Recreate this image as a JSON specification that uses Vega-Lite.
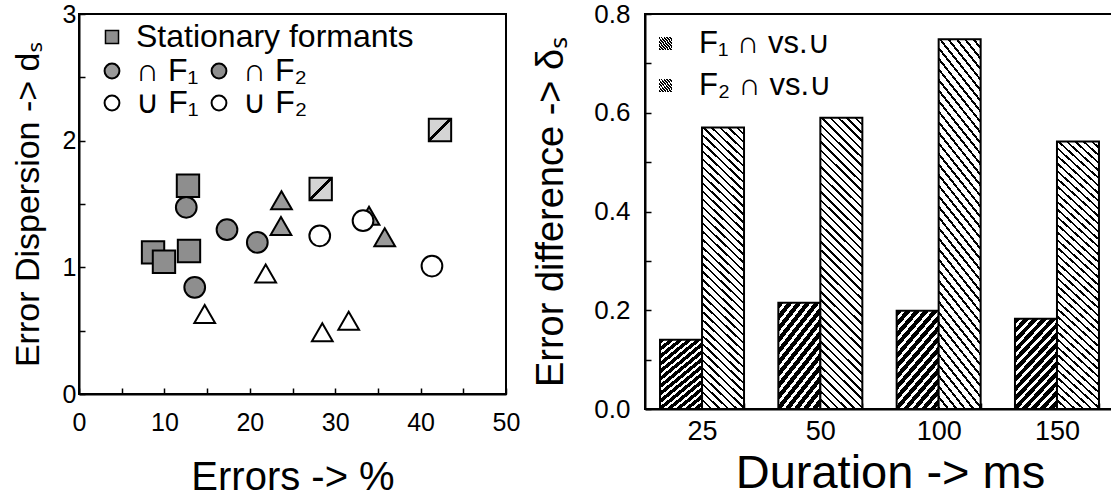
{
  "$schema": "https://vega.github.io/schema/vega-lite/v6.json",
  "background": "white",
  "padding": {"left": 10, "top": 0, "right": 0, "bottom": 0},
  "spacing": 10,
  "config": {
    "font": "Liberation Sans, Noto Sans, DejaVu Sans",
    "view": {"stroke": "black", "strokeWidth": 2},
    "axis": {"domainColor": "black", "domainWidth": 2, "tickColor": "black", "tickWidth": 1.5, "grid": false, "labelColor": "black", "titleColor": "black", "titleFontWeight": "normal", "labelFont": "Liberation Sans, Noto Sans, DejaVu Sans", "titleFont": "Liberation Sans, Noto Sans, DejaVu Sans"},
    "legend": {"labelColor": "black", "labelFont": "Liberation Sans, Noto Sans, DejaVu Sans", "labelLimit": 500}
  },
  "datasets": {
    "squares": [
      {"kind": "Stationary formants", "err": 12.76, "disp": 1.644},
      {"kind": "Stationary formants", "err": 8.67, "disp": 1.118},
      {"kind": "Stationary formants", "err": 9.95, "disp": 1.044},
      {"kind": "Stationary formants", "err": 12.88, "disp": 1.129},
      {"kind": "hatched", "err": 28.3, "disp": 1.618},
      {"kind": "hatched", "err": 42.27, "disp": 2.084}
    ],
    "shapes": [
      {"group": "∩ F₂", "err": 12.56, "disp": 1.474},
      {"group": "∩ F₂", "err": 17.33, "disp": 1.297},
      {"group": "∩ F₂", "err": 20.88, "disp": 1.197},
      {"group": "∩ F₂", "err": 13.55, "disp": 0.842},
      {"group": "∩ F₁", "err": 23.71, "disp": 1.529},
      {"group": "∩ F₁", "err": 23.65, "disp": 1.326},
      {"group": "∩ F₁", "err": 33.96, "disp": 1.407},
      {"group": "∩ F₁", "err": 35.8, "disp": 1.237},
      {"group": "∪ F₁", "err": 14.72, "disp": 0.631},
      {"group": "∪ F₁", "err": 21.86, "disp": 0.951},
      {"group": "∪ F₁", "err": 28.49, "disp": 0.487},
      {"group": "∪ F₁", "err": 31.58, "disp": 0.579},
      {"group": "∪ F₂", "err": 28.19, "disp": 1.249},
      {"group": "∪ F₂", "err": 33.26, "disp": 1.368},
      {"group": "∪ F₂", "err": 41.33, "disp": 1.01}
    ],
    "bars": [
      {"duration": 25, "series": "F₁ ∩ vs.∪", "value": 0.1405},
      {"duration": 25, "series": "F₂ ∩ vs.∪", "value": 0.57},
      {"duration": 50, "series": "F₁ ∩ vs.∪", "value": 0.215},
      {"duration": 50, "series": "F₂ ∩ vs.∪", "value": 0.59},
      {"duration": 100, "series": "F₁ ∩ vs.∪", "value": 0.199},
      {"duration": 100, "series": "F₂ ∩ vs.∪", "value": 0.749},
      {"duration": 150, "series": "F₁ ∩ vs.∪", "value": 0.183},
      {"duration": 150, "series": "F₂ ∩ vs.∪", "value": 0.542}
    ]
  },
  "hconcat": [
    {
      "width": 427,
      "height": 380,
      "encoding": {
        "x": {"field": "err", "type": "quantitative", "scale": {"domain": [0, 50], "nice": false, "zero": false},
          "axis": {"title": "Errors -> %", "titleFontSize": 40, "titlePadding": 22, "labelFontSize": 25, "labelPadding": 22, "tickSize": -6,
            "values": [0, 5, 10, 15, 20, 25, 30, 35, 40, 45, 50], "labelExpr": "datum.value % 10 == 0 ? datum.label : ''", "labelFlush": false}},
        "y": {"field": "disp", "type": "quantitative", "scale": {"domain": [0, 3], "nice": false, "zero": false},
          "axis": {"title": "Error Dispersion -> dₛ", "titleFontSize": 34, "titlePadding": 17, "labelFontSize": 25, "labelPadding": 9, "tickSize": -6,
            "values": [0, 0.5, 1, 1.5, 2, 2.5, 3], "labelExpr": "datum.value % 1 == 0 ? format(datum.value, 'd') : ''", "labelFlush": false}}
      },
      "layer": [
        {
          "data": {"name": "squares"},
          "transform": [{"filter": "datum.kind == 'hatched'"}],
          "mark": {"type": "point", "shape": "square", "size": 500, "filled": true, "opacity": 1, "stroke": "black", "strokeWidth": 2,
            "fill": {"gradient": "linear", "x1": 0, "y1": 0, "x2": 1, "y2": 1, "stops": [
              {"offset": 0, "color": "#d4d4d4"}, {"offset": 0.44, "color": "#d4d4d4"}, {"offset": 0.44, "color": "#000"},
              {"offset": 0.53, "color": "#000"}, {"offset": 0.53, "color": "#d4d4d4"}, {"offset": 1, "color": "#d4d4d4"}]}}
        },
        {
          "data": {"name": "squares"},
          "transform": [{"filter": "datum.kind == 'Stationary formants'"}],
          "mark": {"type": "point", "shape": "square", "size": 500, "filled": true, "opacity": 1, "fill": "#8e8e8e", "strokeWidth": 2},
          "encoding": {
            "stroke": {"field": "kind", "type": "nominal", "scale": {"domain": ["Stationary formants"], "range": ["black"]},
              "legend": {"title": null, "orient": "none", "legendX": 17, "legendY": 7, "padding": 0, "symbolType": "square", "symbolSize": 170, "symbolStrokeWidth": 1.5, "labelFontSize": 32, "labelOffset": 8,
                "encode": {"symbols": {"update": {"fill": {"value": "#8e8e8e"}, "stroke": {"value": "black"}, "opacity": {"value": 1}}}}}}
          }
        },
        {
          "data": {"name": "shapes"},
          "mark": {"type": "point", "filled": true, "opacity": 1, "stroke": "black", "strokeWidth": 2},
          "encoding": {
            "fill": {"field": "group", "type": "nominal", "scale": {"domain": ["∩ F₁", "∪ F₁", "∩ F₂", "∪ F₂"], "range": ["#9a9a9a", "white", "#8e8e8e", "white"]},
              "legend": {"title": null, "orient": "none", "legendX": 17, "legendY": 41, "padding": 0, "columns": 2, "columnPadding": 4, "rowPadding": 0, "symbolSize": 220, "symbolStrokeColor": "black", "symbolStrokeWidth": 2, "labelFontSize": 32, "labelOffset": 8,
                "encode": {"symbols": {"update": {
                  "shape": [{"test": "indexof(datum.value, 'F₁') >= 0", "value": "triangle-up"}, {"value": "circle"}],
                  "stroke": {"value": "black"}, "strokeWidth": {"value": 2}, "opacity": {"value": 1}}}}}},
            "shape": {"field": "group", "type": "nominal", "scale": {"domain": ["∩ F₁", "∪ F₁", "∩ F₂", "∪ F₂"], "range": ["triangle-up", "triangle-up", "circle", "circle"]}, "legend": null},
            "size": {"field": "group", "type": "nominal", "scale": {"domain": ["∩ F₁", "∪ F₁", "∩ F₂", "∪ F₂"], "range": [430, 430, 280, 280]}, "legend": null}
          }
        }
      ],
      "resolve": {"scale": {"fill": "independent"}, "legend": {"fill": "independent"}}
    },
    {
      "width": 469,
      "height": 395,
      "data": {"name": "bars"},
      "encoding": {
        "x": {"field": "duration", "type": "ordinal", "scale": {"paddingInner": 0.29, "paddingOuter": 0.127},
          "axis": {"title": "Duration -> ms", "titleFontSize": 47, "titlePadding": 6, "titleX": 245, "labelFontSize": 27, "labelPadding": 15, "labelAngle": 0, "tickBand": "extent", "tickSize": -6}},
        "xOffset": {"field": "series", "type": "nominal", "scale": {"domain": ["F₁ ∩ vs.∪", "F₂ ∩ vs.∪"], "paddingInner": 0, "paddingOuter": 0}},
        "y": {"field": "value", "type": "quantitative", "scale": {"domain": [0, 0.8], "nice": false, "zero": true},
          "axis": {"title": "Error difference -> δₛ", "titleFontSize": 38, "titlePadding": 23, "labelFontSize": 26, "labelPadding": 21, "tickSize": -6, "format": ".1f",
            "values": [0, 0.1, 0.2, 0.3, 0.4, 0.5, 0.6, 0.7, 0.8], "labelExpr": "round(datum.value * 10) % 2 == 0 ? datum.label : ''", "labelFlush": false}},
        "opacity": {"field": "series", "type": "nominal", "scale": {"domain": ["F₁ ∩ vs.∪", "F₂ ∩ vs.∪"], "range": [1, 1]},
          "legend": {"title": null, "orient": "none", "legendX": 571, "legendY": 14, "padding": 0, "symbolType": "square", "symbolSize": 170, "symbolStrokeColor": "black", "symbolStrokeWidth": 1.5, "symbolOpacity": 1, "labelFontSize": 31, "labelOffset": 18, "rowPadding": 10,
            "encode": {"symbols": {"update": {
              "fill": [
                {"test": "datum.value == 'F₁ ∩ vs.∪'", "value": {"gradient": "linear", "x1": 0, "y1": 0, "x2": 1, "y2": 1, "stops": [{"offset": 0, "color": "#000"}, {"offset": 0.4, "color": "#000"}, {"offset": 0.4, "color": "#fff"}, {"offset": 0.6, "color": "#fff"}, {"offset": 0.6, "color": "#000"}, {"offset": 1, "color": "#000"}]}},
                {"value": {"gradient": "linear", "x1": 1, "y1": 0, "x2": 0, "y2": 1, "stops": [{"offset": 0, "color": "#fff"}, {"offset": 0.42, "color": "#fff"}, {"offset": 0.42, "color": "#000"}, {"offset": 0.58, "color": "#000"}, {"offset": 0.58, "color": "#fff"}, {"offset": 1, "color": "#fff"}]}}],
              "stroke": {"value": "black"}, "opacity": {"value": 1}}}}}}
      },
      "layer": [
        {
          "transform": [{"filter": "datum.series == 'F₁ ∩ vs.∪'"}],
          "mark": {"type": "bar", "stroke": "black", "strokeWidth": 2,
            "fill": {"gradient": "linear", "x1": 0, "y1": 0, "x2": 0.6, "y2": 1.2, "stops": [
              {"offset": 0, "color": "#000"}, {"offset": 0.0429, "color": "#000"}, {"offset": 0.0429, "color": "#fff"}, {"offset": 0.0714, "color": "#fff"},
              {"offset": 0.0714, "color": "#000"}, {"offset": 0.1143, "color": "#000"}, {"offset": 0.1143, "color": "#fff"}, {"offset": 0.1429, "color": "#fff"},
              {"offset": 0.1429, "color": "#000"}, {"offset": 0.1857, "color": "#000"}, {"offset": 0.1857, "color": "#fff"}, {"offset": 0.2143, "color": "#fff"},
              {"offset": 0.2143, "color": "#000"}, {"offset": 0.2571, "color": "#000"}, {"offset": 0.2571, "color": "#fff"}, {"offset": 0.2857, "color": "#fff"},
              {"offset": 0.2857, "color": "#000"}, {"offset": 0.3286, "color": "#000"}, {"offset": 0.3286, "color": "#fff"}, {"offset": 0.3571, "color": "#fff"},
              {"offset": 0.3571, "color": "#000"}, {"offset": 0.4, "color": "#000"}, {"offset": 0.4, "color": "#fff"}, {"offset": 0.4286, "color": "#fff"},
              {"offset": 0.4286, "color": "#000"}, {"offset": 0.4714, "color": "#000"}, {"offset": 0.4714, "color": "#fff"}, {"offset": 0.5, "color": "#fff"},
              {"offset": 0.5, "color": "#000"}, {"offset": 0.5429, "color": "#000"}, {"offset": 0.5429, "color": "#fff"}, {"offset": 0.5714, "color": "#fff"},
              {"offset": 0.5714, "color": "#000"}, {"offset": 0.6143, "color": "#000"}, {"offset": 0.6143, "color": "#fff"}, {"offset": 0.6429, "color": "#fff"},
              {"offset": 0.6429, "color": "#000"}, {"offset": 0.6857, "color": "#000"}, {"offset": 0.6857, "color": "#fff"}, {"offset": 0.7143, "color": "#fff"},
              {"offset": 0.7143, "color": "#000"}, {"offset": 0.7571, "color": "#000"}, {"offset": 0.7571, "color": "#fff"}, {"offset": 0.7857, "color": "#fff"},
              {"offset": 0.7857, "color": "#000"}, {"offset": 0.8286, "color": "#000"}, {"offset": 0.8286, "color": "#fff"}, {"offset": 0.8571, "color": "#fff"},
              {"offset": 0.8571, "color": "#000"}, {"offset": 0.9, "color": "#000"}, {"offset": 0.9, "color": "#fff"}, {"offset": 0.9286, "color": "#fff"},
              {"offset": 0.9286, "color": "#000"}, {"offset": 0.9714, "color": "#000"}, {"offset": 0.9714, "color": "#fff"}, {"offset": 1, "color": "#fff"}
            ]}}
        },
        {
          "transform": [{"filter": "datum.series == 'F₂ ∩ vs.∪'"}],
          "mark": {"type": "bar", "stroke": "black", "strokeWidth": 2,
            "fill": {"gradient": "linear", "x1": 1, "y1": 0, "x2": 0.84, "y2": 1.12, "stops": [
              {"offset": 0, "color": "#fff"}, {"offset": 0.0175, "color": "#fff"}, {"offset": 0.0175, "color": "#000"}, {"offset": 0.025, "color": "#000"},
              {"offset": 0.025, "color": "#fff"}, {"offset": 0.0425, "color": "#fff"}, {"offset": 0.0425, "color": "#000"}, {"offset": 0.05, "color": "#000"},
              {"offset": 0.05, "color": "#fff"}, {"offset": 0.0675, "color": "#fff"}, {"offset": 0.0675, "color": "#000"}, {"offset": 0.075, "color": "#000"},
              {"offset": 0.075, "color": "#fff"}, {"offset": 0.0925, "color": "#fff"}, {"offset": 0.0925, "color": "#000"}, {"offset": 0.1, "color": "#000"},
              {"offset": 0.1, "color": "#fff"}, {"offset": 0.1175, "color": "#fff"}, {"offset": 0.1175, "color": "#000"}, {"offset": 0.125, "color": "#000"},
              {"offset": 0.125, "color": "#fff"}, {"offset": 0.1425, "color": "#fff"}, {"offset": 0.1425, "color": "#000"}, {"offset": 0.15, "color": "#000"},
              {"offset": 0.15, "color": "#fff"}, {"offset": 0.1675, "color": "#fff"}, {"offset": 0.1675, "color": "#000"}, {"offset": 0.175, "color": "#000"},
              {"offset": 0.175, "color": "#fff"}, {"offset": 0.1925, "color": "#fff"}, {"offset": 0.1925, "color": "#000"}, {"offset": 0.2, "color": "#000"},
              {"offset": 0.2, "color": "#fff"}, {"offset": 0.2175, "color": "#fff"}, {"offset": 0.2175, "color": "#000"}, {"offset": 0.225, "color": "#000"},
              {"offset": 0.225, "color": "#fff"}, {"offset": 0.2425, "color": "#fff"}, {"offset": 0.2425, "color": "#000"}, {"offset": 0.25, "color": "#000"},
              {"offset": 0.25, "color": "#fff"}, {"offset": 0.2675, "color": "#fff"}, {"offset": 0.2675, "color": "#000"}, {"offset": 0.275, "color": "#000"},
              {"offset": 0.275, "color": "#fff"}, {"offset": 0.2925, "color": "#fff"}, {"offset": 0.2925, "color": "#000"}, {"offset": 0.3, "color": "#000"},
              {"offset": 0.3, "color": "#fff"}, {"offset": 0.3175, "color": "#fff"}, {"offset": 0.3175, "color": "#000"}, {"offset": 0.325, "color": "#000"},
              {"offset": 0.325, "color": "#fff"}, {"offset": 0.3425, "color": "#fff"}, {"offset": 0.3425, "color": "#000"}, {"offset": 0.35, "color": "#000"},
              {"offset": 0.35, "color": "#fff"}, {"offset": 0.3675, "color": "#fff"}, {"offset": 0.3675, "color": "#000"}, {"offset": 0.375, "color": "#000"},
              {"offset": 0.375, "color": "#fff"}, {"offset": 0.3925, "color": "#fff"}, {"offset": 0.3925, "color": "#000"}, {"offset": 0.4, "color": "#000"},
              {"offset": 0.4, "color": "#fff"}, {"offset": 0.4175, "color": "#fff"}, {"offset": 0.4175, "color": "#000"}, {"offset": 0.425, "color": "#000"},
              {"offset": 0.425, "color": "#fff"}, {"offset": 0.4425, "color": "#fff"}, {"offset": 0.4425, "color": "#000"}, {"offset": 0.45, "color": "#000"},
              {"offset": 0.45, "color": "#fff"}, {"offset": 0.4675, "color": "#fff"}, {"offset": 0.4675, "color": "#000"}, {"offset": 0.475, "color": "#000"},
              {"offset": 0.475, "color": "#fff"}, {"offset": 0.4925, "color": "#fff"}, {"offset": 0.4925, "color": "#000"}, {"offset": 0.5, "color": "#000"},
              {"offset": 0.5, "color": "#fff"}, {"offset": 0.5175, "color": "#fff"}, {"offset": 0.5175, "color": "#000"}, {"offset": 0.525, "color": "#000"},
              {"offset": 0.525, "color": "#fff"}, {"offset": 0.5425, "color": "#fff"}, {"offset": 0.5425, "color": "#000"}, {"offset": 0.55, "color": "#000"},
              {"offset": 0.55, "color": "#fff"}, {"offset": 0.5675, "color": "#fff"}, {"offset": 0.5675, "color": "#000"}, {"offset": 0.575, "color": "#000"},
              {"offset": 0.575, "color": "#fff"}, {"offset": 0.5925, "color": "#fff"}, {"offset": 0.5925, "color": "#000"}, {"offset": 0.6, "color": "#000"},
              {"offset": 0.6, "color": "#fff"}, {"offset": 0.6175, "color": "#fff"}, {"offset": 0.6175, "color": "#000"}, {"offset": 0.625, "color": "#000"},
              {"offset": 0.625, "color": "#fff"}, {"offset": 0.6425, "color": "#fff"}, {"offset": 0.6425, "color": "#000"}, {"offset": 0.65, "color": "#000"},
              {"offset": 0.65, "color": "#fff"}, {"offset": 0.6675, "color": "#fff"}, {"offset": 0.6675, "color": "#000"}, {"offset": 0.675, "color": "#000"},
              {"offset": 0.675, "color": "#fff"}, {"offset": 0.6925, "color": "#fff"}, {"offset": 0.6925, "color": "#000"}, {"offset": 0.7, "color": "#000"},
              {"offset": 0.7, "color": "#fff"}, {"offset": 0.7175, "color": "#fff"}, {"offset": 0.7175, "color": "#000"}, {"offset": 0.725, "color": "#000"},
              {"offset": 0.725, "color": "#fff"}, {"offset": 0.7425, "color": "#fff"}, {"offset": 0.7425, "color": "#000"}, {"offset": 0.75, "color": "#000"},
              {"offset": 0.75, "color": "#fff"}, {"offset": 0.7675, "color": "#fff"}, {"offset": 0.7675, "color": "#000"}, {"offset": 0.775, "color": "#000"},
              {"offset": 0.775, "color": "#fff"}, {"offset": 0.7925, "color": "#fff"}, {"offset": 0.7925, "color": "#000"}, {"offset": 0.8, "color": "#000"},
              {"offset": 0.8, "color": "#fff"}, {"offset": 0.8175, "color": "#fff"}, {"offset": 0.8175, "color": "#000"}, {"offset": 0.825, "color": "#000"},
              {"offset": 0.825, "color": "#fff"}, {"offset": 0.8425, "color": "#fff"}, {"offset": 0.8425, "color": "#000"}, {"offset": 0.85, "color": "#000"},
              {"offset": 0.85, "color": "#fff"}, {"offset": 0.8675, "color": "#fff"}, {"offset": 0.8675, "color": "#000"}, {"offset": 0.875, "color": "#000"},
              {"offset": 0.875, "color": "#fff"}, {"offset": 0.8925, "color": "#fff"}, {"offset": 0.8925, "color": "#000"}, {"offset": 0.9, "color": "#000"},
              {"offset": 0.9, "color": "#fff"}, {"offset": 0.9175, "color": "#fff"}, {"offset": 0.9175, "color": "#000"}, {"offset": 0.925, "color": "#000"},
              {"offset": 0.925, "color": "#fff"}, {"offset": 0.9425, "color": "#fff"}, {"offset": 0.9425, "color": "#000"}, {"offset": 0.95, "color": "#000"},
              {"offset": 0.95, "color": "#fff"}, {"offset": 0.9675, "color": "#fff"}, {"offset": 0.9675, "color": "#000"}, {"offset": 0.975, "color": "#000"},
              {"offset": 0.975, "color": "#fff"}, {"offset": 0.9925, "color": "#fff"}, {"offset": 0.9925, "color": "#000"}, {"offset": 1, "color": "#000"}
            ]}}
        }
      ]
    }
  ]
}
